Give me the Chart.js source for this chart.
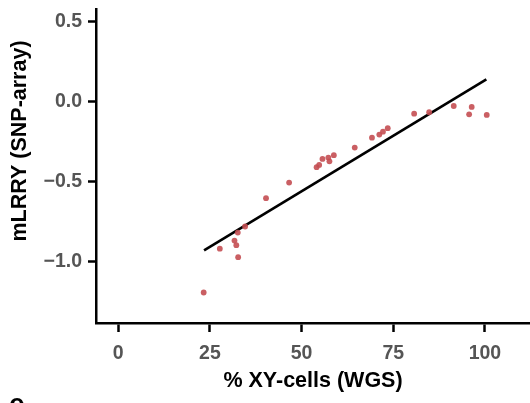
<!DOCTYPE html>
<html>
<head>
<meta charset="utf-8">
<script src="https://cdn.jsdelivr.net/npm/chart.js@4"></script>
<style>
  html, body { margin: 0; padding: 0; background: #fff; }
  #outer { width: 530px; height: 403px; overflow: hidden; position: relative; }
  /* a bit wider than the window so the x axis runs to the right edge */
  #wrap { width: 534px; height: 403px; position: relative; }
</style>
</head>
<body>
<div id="outer"><div id="wrap"><canvas id="chart"></canvas></div></div>
<script>
// data
const xyCells = [23.3, 27.7, 31.7, 32.2, 32.6, 32.7, 34.6, 40.3, 46.6, 54.1, 54.8, 55.7, 57.3, 57.6, 58.8, 64.5, 69.2, 71.2, 72.2, 73.5, 80.7, 84.8, 91.5, 95.7, 96.4, 100.5];
const mLRRY = [-1.194, -0.92, -0.869, -0.898, -0.819, -0.973, -0.781, -0.604, -0.506, -0.41, -0.396, -0.358, -0.35, -0.373, -0.335, -0.287, -0.225, -0.206, -0.188, -0.166, -0.075, -0.066, -0.027, -0.079, -0.033, -0.083];

// fitted line ends
const fitX = [23.4, 100.4];
const fitY = [-0.93, 0.14];

const xTicks = [0, 25, 50, 75, 100];
const yTicks = [-1.0, -0.5, 0.0, 0.5];

const fontFamily = "'Liberation Sans', Arial, sans-serif";
const tickFont = { family: fontFamily, size: 19.5, weight: "bold" };
const titleFont = { family: fontFamily, size: 21.5, weight: "bold" };

// y title (sits higher than the plot middle) + cut-off panel letter
const extraText = {
  id: "extraText",
  afterDraw(chart) {
    const ctx = chart.ctx;
    ctx.save();
    ctx.fillStyle = "#000";
    ctx.font = "bold 21.5px " + fontFamily;
    ctx.textAlign = "center";
    ctx.textBaseline = "middle";
    ctx.translate(20, 141);
    ctx.rotate(-Math.PI / 2);
    ctx.fillText("mLRRY (SNP-array)", 0, 0);
    ctx.restore();

    ctx.save();
    ctx.fillStyle = "#000";
    ctx.font = "bold 28px " + fontFamily;
    ctx.textBaseline = "alphabetic";
    ctx.fillText("e", 9, 413);
    ctx.restore();
  },
};

new Chart(document.getElementById("chart"), {
  type: "scatter",
  data: {
    datasets: [
      {
        label: "fit",
        type: "line",
        data: fitX.map((x, i) => ({ x: x, y: fitY[i] })),
        borderColor: "#000",
        borderWidth: 2.6,
        pointRadius: 0,
        fill: false,
        order: 1,
      },
      {
        label: "samples",
        data: xyCells.map((x, i) => ({ x: x, y: mLRRY[i] })),
        backgroundColor: "rgba(196, 78, 82, 0.9)",
        borderWidth: 0,
        pointRadius: 2.9,
        order: 0,
      },
    ],
  },
  options: {
    responsive: true,
    maintainAspectRatio: false,
    animation: false,
    layout: { padding: { top: 9, right: 0, left: 0, bottom: 0 } },
    plugins: {
      legend: { display: false },
      tooltip: { enabled: false },
    },
    scales: {
      x: {
        type: "linear",
        min: -6.07,
        max: 112.3,
        afterBuildTicks: (s) => { s.ticks = xTicks.map((v) => ({ value: v })); },
        afterFit: (s) => {
          s.height = 80;
          s.paddingLeft = 0;
          s.paddingRight = 0;
        },
        border: { display: true, color: "#000", width: 2.5 },
        grid: { drawOnChartArea: false, drawTicks: true, tickLength: 9, tickColor: "#000", tickWidth: 2.5 },
        ticks: { color: "#555", font: tickFont, padding: 10, maxRotation: 0 },
        title: { display: true, text: "% XY-cells (WGS)", color: "#000", font: titleFont, padding: { top: 0, bottom: 9.5 } },
      },
      y: {
        type: "linear",
        min: -1.385,
        max: 0.58,
        afterBuildTicks: (s) => { s.ticks = yTicks.map((v) => ({ value: v })); },
        afterFit: (s) => {
          s.width = 96;
          s.paddingTop = 0;
          s.paddingBottom = 0;
        },
        border: { display: true, color: "#000", width: 2.5 },
        grid: { drawOnChartArea: false, drawTicks: true, tickLength: 8, tickColor: "#000", tickWidth: 2.5 },
        ticks: {
          color: "#555",
          font: tickFont,
          padding: 6,
          callback: (v) => (v < 0 ? "\u2212" + Math.abs(v).toFixed(1) : v.toFixed(1)),
        },
      },
    },
  },
  plugins: [extraText],
});
</script>
</body>
</html>
